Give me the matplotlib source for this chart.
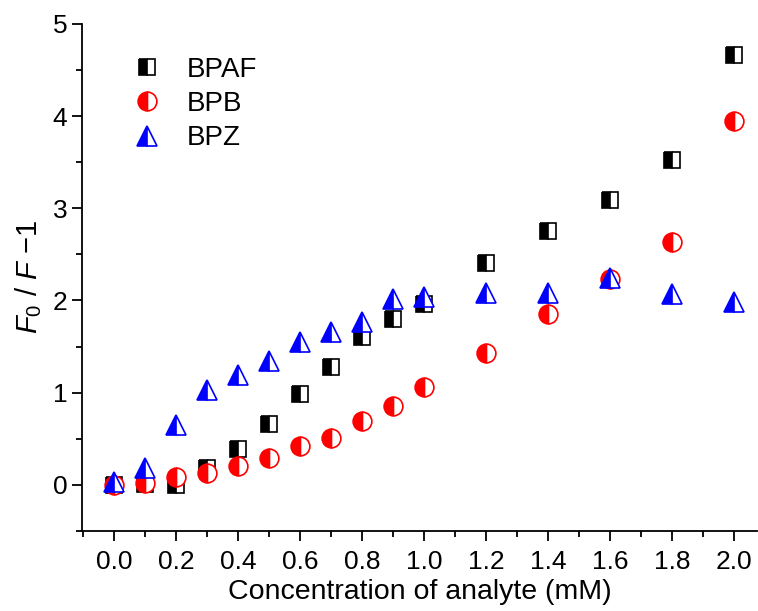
import matplotlib
matplotlib.use('Agg')
import matplotlib.pyplot as plt
from matplotlib.ticker import MultipleLocator

plt.rcParams['font.family'] = ['Liberation Sans', 'DejaVu Sans']
plt.rcParams['mathtext.fontset'] = 'custom'
plt.rcParams['mathtext.rm'] = 'Liberation Sans'
plt.rcParams['mathtext.it'] = 'Liberation Sans:italic'

# concentration (mM)
conc = [0.0, 0.1, 0.2, 0.3, 0.4, 0.5, 0.6, 0.7, 0.8, 0.9, 1.0, 1.2, 1.4, 1.6, 1.8, 2.0]

# F0/F - 1 for each analyte
bpaf = [0.0, 0.01, 0.0, 0.18, 0.39, 0.66, 0.98, 1.28, 1.60, 1.80, 1.96, 2.41, 2.75, 3.09, 3.52, 4.66]
bpb = [0.0, 0.02, 0.08, 0.13, 0.20, 0.29, 0.42, 0.51, 0.69, 0.85, 1.06, 1.43, 1.85, 2.23, 2.63, 3.95]
bpz = [0.03, 0.18, 0.65, 1.03, 1.19, 1.34, 1.55, 1.66, 1.77, 2.02, 2.04, 2.08, 2.08, 2.24, 2.07, 1.98]

fig = plt.figure(figsize=(7.58, 6.11), dpi=100)
ax = fig.add_axes([0.108, 0.131, 0.891, 0.830])

ax.plot(conc, bpaf, linestyle='none', marker='s', markersize=12, fillstyle='left',
        markerfacecolor='black', markerfacecoloralt='white', markeredgecolor='black',
        markeredgewidth=1.2, label='BPAF')
ax.plot(conc, bpb, linestyle='none', marker='o', markersize=13.5, fillstyle='left',
        markerfacecolor='red', markerfacecoloralt='white', markeredgecolor='red',
        markeredgewidth=1.2, label='BPB')
ax.plot(conc, bpz, linestyle='none', marker='^', markersize=15, fillstyle='left',
        markerfacecolor='blue', markerfacecoloralt='white', markeredgecolor='blue',
        markeredgewidth=1.2, label='BPZ')

ax.set_xlim(-0.103, 2.075)
ax.set_ylim(-0.5, 5)
ax.xaxis.set_major_locator(MultipleLocator(0.2))
ax.xaxis.set_minor_locator(MultipleLocator(0.1))
ax.yaxis.set_major_locator(MultipleLocator(1))
ax.yaxis.set_minor_locator(MultipleLocator(0.5))
ax.xaxis.set_major_formatter(plt.FuncFormatter(lambda v, p: f'{v:.1f}'))

for s in ['top', 'right']:
    ax.spines[s].set_visible(False)
for s in ['left', 'bottom']:
    ax.spines[s].set_linewidth(1.3)

ax.tick_params(which='major', length=7, width=1.3, labelsize=19, direction='out')
ax.tick_params(axis='x', which='major', pad=7)
ax.tick_params(which='minor', length=4, width=1.3, direction='out')

ax.set_xlabel('Concentration of analyte (mM)', fontsize=20.5, labelpad=3)
ax.set_ylabel(r'$F_0$ / $F$ $-$1', fontsize=21, labelpad=6)

ax.legend(loc='upper left', bbox_to_anchor=(0.0756, 0.935), frameon=False, fontsize=20,
          borderaxespad=0, borderpad=0, handlelength=1.0, handletextpad=0.95,
          labelspacing=0.3)

fig.savefig('out.png', dpi=100)
